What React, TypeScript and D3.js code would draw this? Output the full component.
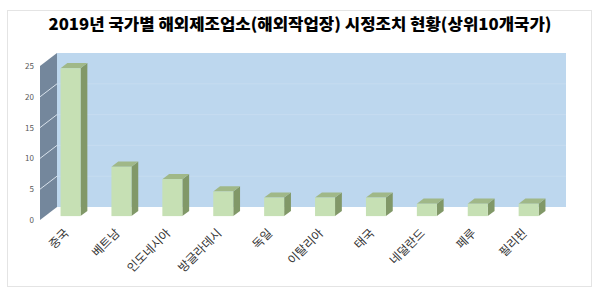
import React from "react";
import * as d3 from "d3";

const categories = ["중국", "베트남", "인도네시아", "방글라데시", "독일", "이탈리아", "태국", "네덜란드", "페루", "필리핀"];
const values = [24, 8, 6, 4, 3, 3, 3, 2, 2, 2];
const yTicks = [0, 5, 10, 15, 20, 25];
const title = "2019년 국가별 해외제조업소(해외작업장) 시정조치 현황(상위10개국가)";

const W = 600;
const H = 295;
const DX = 17; // depth projection
const DY = -13;
const FONT = "'Noto Sans CJK KR', 'Noto Sans', sans-serif";

export default function App() {
  const x = d3.scaleBand<string>().domain(categories).range([40, 549]).padding(0);
  const y = d3.scaleLinear().domain([0, 25]).range([220, 66]);
  const z0 = 0.3;
  const z1 = 0.7;
  const bw = 20;

  const sideWall = `M40,${y(0)} L${40 + DX},${y(0) + DY} L${40 + DX},${y(25) + DY} L40,${y(25)} Z`;

  return (
    <svg width={W} height={H} style={{ position: "absolute", left: 0, top: 0 }}>
      <rect x={0} y={0} width={W} height={H} fill="#ffffff" />
      <rect x={7.5} y={10.5} width={584} height={276} fill="#ffffff" stroke="#e4e4e4" strokeWidth={1} />
      <text
        x={300}
        y={30}
        textAnchor="middle"
        fontFamily={FONT}
        fontWeight={900}
        fontSize={16}
        fill="#000"
        textLength={503}
        lengthAdjust="spacingAndGlyphs"
      >
        {title}
      </text>

      {/* back wall */}
      <rect x={40 + DX} y={y(25) + DY} width={549 - 40} height={y(0) - y(25)} fill="#bdd7ee" />
      {yTicks.slice(1, -1).map((t) => (
        <line key={"bg" + t} x1={40 + DX} x2={549 + DX} y1={y(t) + DY} y2={y(t) + DY} stroke="#c6dcf0" strokeWidth={1} />
      ))}
      {/* side wall */}
      <path d={sideWall} fill="#74879c" />
      {yTicks.slice(1, -1).map((t) => (
        <line key={"sg" + t} x1={40} y1={y(t)} x2={40 + DX} y2={y(t) + DY} stroke="#d8e2ec" strokeWidth={1} />
      ))}

      {/* y tick labels */}
      {yTicks.map((t) => (
        <text key={"yt" + t} x={34} y={y(t) + 3} textAnchor="end" fontFamily={FONT} fontSize={8} fill="#595959">
          {t}
        </text>
      ))}

      {/* bars */}
      {categories.map((c, i) => {
        const cx = (x(c) as number) + x.bandwidth() / 2;
        const fx = cx - bw / 2 + DX * z0;
        const fb = y(0) + DY * z0;
        const ft = y(values[i]) + DY * z0;
        const ddx = DX * (z1 - z0);
        const ddy = DY * (z1 - z0);
        return (
          <g key={c}>
            <path
              d={`M${fx + bw},${fb} L${fx + bw + ddx},${fb + ddy} L${fx + bw + ddx},${ft + ddy} L${fx + bw},${ft} Z`}
              fill="#819868"
            />
            <path
              d={`M${fx},${ft} L${fx + ddx},${ft + ddy} L${fx + bw + ddx},${ft + ddy} L${fx + bw},${ft} Z`}
              fill="#a0b888"
            />
            <rect x={fx} y={ft} width={bw} height={fb - ft} fill="#c6e0b4" />
          </g>
        );
      })}

      {/* x labels */}
      {categories.map((c) => {
        const cx = (x(c) as number) + x.bandwidth() / 2 + DX * z0;
        const ax = cx - 1;
        const ay = 234;
        return (
          <text
            key={"xl" + c}
            x={ax}
            y={ay}
            transform={`rotate(-45 ${ax} ${ay})`}
            textAnchor="end"
            fontFamily={FONT}
            fontSize={12}
            fill="#333333"
          >
            {c}
          </text>
        );
      })}
    </svg>
  );
}
